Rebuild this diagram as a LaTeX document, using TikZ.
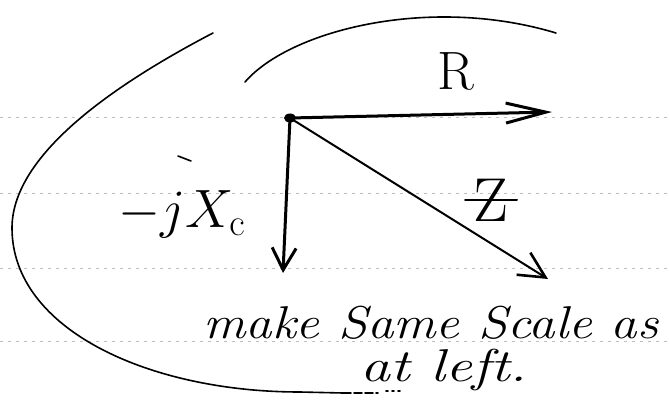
\RequirePackage{fix-cm}
\documentclass[tikz,border=0pt]{standalone}
\usetikzlibrary{arrows.meta}
\begin{document}
\begin{tikzpicture}[x=1pt,y=-1pt,
  vec/.style={line width=3pt, line cap=round, -{Straight Barb[length=22pt,width=24pt,line width=3pt]}},
  hand/.style={line width=1.6pt, line cap=round},
  ruled/.style={gray!50, line width=1pt, dash pattern=on 3pt off 5pt},
  lbl/.style={inner sep=0pt},
  note/.style={inner sep=0pt, anchor=base west, font=\fontsize{46}{50}\selectfont\itshape}]
\useasboundingbox (0,0) rectangle (670,412);
\fill[white] (0,0) rectangle (670,412);
% ruled paper lines
\foreach \yy in {118,193,268,341} \draw[ruled] (0,\yy) -- (670,\yy);
% arcs
\draw[hand] (213,33) .. controls (100,92) and (12,160) .. (12,228)
  .. controls (12,330) and (150,392) .. (300,392) -- (343,393);
\draw[hand, dash pattern=on 8pt off 3pt] (343,393) -- (378,393);
\draw[hand, dash pattern=on 2pt off 4pt] (386,391) -- (402,391);
\draw[hand] (245,82) .. controls (290,30) and (430,-5) .. (556,33);
% vectors
\coordinate (O) at (290,118);
\coordinate (Rt) at (552,112);
\coordinate (Xt) at (283,273);
\coordinate (Zt) at (548,279);
\draw[line width=3pt, line cap=round, -{Straight Barb[length=40pt,width=20pt,line width=3pt]}] (O) -- (Rt);
\draw[vec] (O) -- (Xt);
\draw[line width=2pt, line cap=round, -{Straight Barb[length=26pt,width=26pt,line width=2.6pt]}] (O) -- (Zt);
\fill (O) ellipse (6pt and 4.5pt);
% labels
\node[lbl, font=\fontsize{54}{56}\selectfont] (R) at (456,71) {R};
\node[lbl, font=\fontsize{62}{64}\selectfont] (Z) at (491,200) {Z};
\draw[line width=2pt, line cap=round] ([xshift=-26pt]Z.center) -- ([xshift=26pt]Z.center);
\draw[hand] (178,156) -- (191,161);
\node[lbl, font=\fontsize{54}{56}\selectfont] (X) at (182,214) {$-jX_{\mathrm{c}}$};
\node[note, xscale=1.15] (n1) at (203,338) {make Same Scale as};
\node[note, xscale=1.3] (n2) at (360,381) {at left.};
\end{tikzpicture}
\end{document}
